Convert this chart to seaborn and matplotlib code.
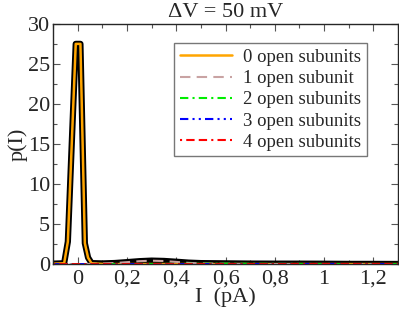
import numpy as np
import pandas as pd
import seaborn as sns
import matplotlib.pyplot as plt
import matplotlib.ticker as ticker

# current axis (pA)
current = [-0.1, -0.055, -0.04, -0.008, 0.011, 0.029, 0.042, 0.056, 0.1, 0.15,
           0.2, 0.25, 0.3, 0.35, 0.4, 0.45, 0.5, 0.6, 0.7, 0.8, 0.9, 1.0,
           1.1, 1.2, 1.3]

# p(I) for each number of open subunits
p_open0 = [0.05, 0.1, 2.8, 27.5, 27.5, 2.6, 0.8, 0.1, 0.02, 0.0,
           0.0, 0.0, 0.0, 0.0, 0.0, 0.0, 0.0, 0.0, 0.0, 0.0, 0.0, 0.0,
           0.0, 0.0, 0.0]
p_open1 = [0.0, 0.0, 0.0, 0.0, 0.0, 0.0, 0.01, 0.02, 0.06, 0.13,
           0.24, 0.36, 0.42, 0.38, 0.27, 0.15, 0.08, 0.03, 0.01, 0.0, 0.0, 0.0,
           0.0, 0.0, 0.0]
p_open2 = [0.0, 0.0, 0.0, 0.0, 0.0, 0.0, 0.0, 0.0, 0.0, 0.0,
           0.0, 0.0, 0.01, 0.01, 0.02, 0.03, 0.04, 0.05, 0.04, 0.03, 0.02, 0.01,
           0.0, 0.0, 0.0]
p_open3 = [0.0, 0.0, 0.0, 0.0, 0.0, 0.0, 0.0, 0.0, 0.0, 0.0,
           0.0, 0.0, 0.0, 0.0, 0.0, 0.0, 0.0, 0.01, 0.01, 0.02, 0.02, 0.02,
           0.01, 0.01, 0.0]
p_open4 = [0.0, 0.0, 0.0, 0.0, 0.0, 0.0, 0.0, 0.0, 0.0, 0.0,
           0.0, 0.0, 0.0, 0.0, 0.0, 0.0, 0.0, 0.0, 0.0, 0.0, 0.01, 0.01,
           0.01, 0.01, 0.01]

labels = ["0 open subunits", "1 open subunit", "2 open subunits",
          "3 open subunits", "4 open subunits"]
series = [p_open0, p_open1, p_open2, p_open3, p_open4]
colors = ["#ffa500", "#c9a3a3", "#00ee00", "#0000ff", "#ff0000"]
dashes = ["-", (0, (5, 3)), (0, (4, 2, 1, 2)), (0, (4, 2, 1, 2, 1, 2)),
          (0, (1, 2, 4, 2, 4, 2))]

sns.set_style("ticks")
plt.rcParams["font.family"] = ["Liberation Serif", "DejaVu Serif"]

fig = plt.figure(figsize=(3.99, 3.14), dpi=100)
ax = fig.add_axes([0.133, 0.159, 0.8645, 0.765])

total = np.sum(np.array(series), axis=0)
df = pd.DataFrame({"I": current, "total": total})
sns.lineplot(data=df, x="I", y="total", color="black", linewidth=4.5, ax=ax,
             legend=False)

for vals, lab, col, ls in zip(series, labels, colors, dashes):
    d = pd.DataFrame({"I": current, "p": vals})
    sns.lineplot(data=d, x="I", y="p", color=col,
                 linewidth=1.8 if lab.startswith("0") else 1.5,
                 linestyle=ls, label=lab, ax=ax)

ax.set_xlim(-0.1, 1.3)
ax.set_ylim(0, 30)

# comma decimal separator on x axis
ax.xaxis.set_major_locator(ticker.MultipleLocator(0.2))
ax.xaxis.set_minor_locator(ticker.MultipleLocator(0.1))
ax.xaxis.set_major_formatter(ticker.FuncFormatter(
    lambda x, pos: f"{x:g}".replace(".", ",") if abs(x) > 1e-9 else "0"))
ax.yaxis.set_major_locator(ticker.MultipleLocator(5))
ax.yaxis.set_minor_locator(ticker.MultipleLocator(2.5))

ax.tick_params(which="both", direction="in", top=True, right=True,
               labelsize=16, width=0.8, color="#555555")
ax.tick_params(which="major", length=5)
ax.tick_params(which="minor", length=3)
ax.tick_params(axis="x", pad=4)
ax.tick_params(axis="y", pad=2)
for sp in ax.spines.values():
    sp.set_linewidth(1.0)

ax.set_xlabel("I  (pA)", fontsize=16, labelpad=-1)
ax.set_ylabel("p(I)", fontsize=16, labelpad=0)
ax.set_title("ΔV = 50 mV", fontsize=16, pad=5)

leg = ax.legend(loc="upper right", bbox_to_anchor=(0.91, 0.92), fontsize=13.5,
                handlelength=2.8, frameon=True, fancybox=False,
                edgecolor="#555555", borderpad=0.3, labelspacing=0.22,
                handletextpad=0.6, borderaxespad=0)
leg.get_frame().set_linewidth(1.0)

fig.savefig("out.png", dpi=100)
